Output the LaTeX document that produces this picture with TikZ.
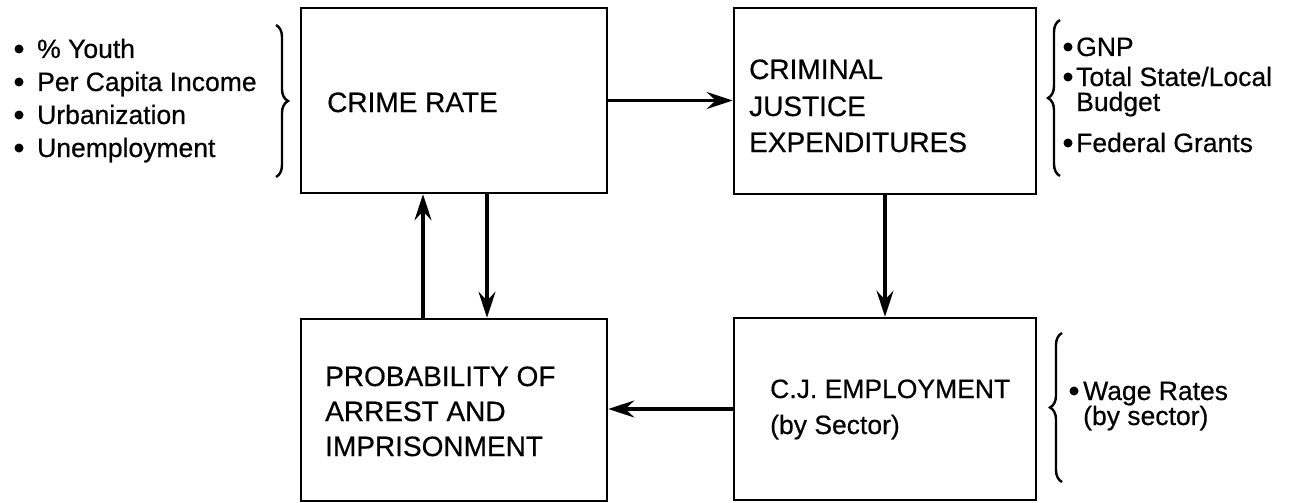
\documentclass[tikz,border=0pt]{standalone}
\usepackage{fontspec}
\setmainfont{Liberation Sans}
\newfontfamily\medfont{Liberation Sans}[FakeBold=0.5]
\usetikzlibrary{arrows.meta,decorations.pathreplacing}
\tikzset{
  box/.style={draw, line width=2.6pt, inner sep=0pt},
  btxt/.style={anchor=base west, inner sep=0pt, font=\medfont\fontsize{28}{32}\selectfont},
  etxt/.style={anchor=base west, inner sep=0pt, font=\medfont\fontsize{26.5}{30}\selectfont},
  stxt/.style={anchor=base west, inner sep=0pt, font=\medfont\fontsize{26.5}{30}\selectfont},
  dot/.style={circle, fill=black, inner sep=0pt, minimum size=9pt},
  arr/.style={line width=3.6pt, -{Stealth[length=26pt,width=17pt,inset=9pt]}},
  brace/.style={line width=2.4pt, decorate, decoration={brace, amplitude=12pt}}
}
\begin{document}
\begin{tikzpicture}[x=1pt,y=-1pt]
\useasboundingbox (0,0) rectangle (1299,503);
% boxes
\node[box, minimum width=306pt, minimum height=185pt] (crime) at (454,100.5) {};
\node[box, minimum width=302pt, minimum height=186pt] (cje) at (885,101) {};
\node[box, minimum width=306pt, minimum height=182pt] (prob) at (454,410) {};
\node[box, minimum width=302pt, minimum height=182pt] (emp) at (885,409) {};
% box texts
\node[btxt] (crimeT) at (327,112) {CRIME RATE};
\node[btxt] (cjeA) at (749,79) {CRIMINAL};
\node[btxt] (cjeB) at (749,116) {JUSTICE};
\node[btxt] (cjeC) at (749,152) {EXPENDITURES};
\node[btxt] (probA) at (325,386) {PROBABILITY OF};
\node[btxt] (probB) at (325,421) {ARREST AND};
\node[btxt] (probC) at (325,456) {IMPRISONMENT};
\node[etxt] (empA) at (770,398) {C.J. EMPLOYMENT};
\node[etxt] (empB) at (770,434) {(by Sector)};
% left list
\node[stxt] (l1) at (37,58) {\% Youth};
\node[stxt] (l2) at (37,91) {Per Capita Income};
\node[stxt] (l3) at (37,124) {Urbanization};
\node[stxt] (l4) at (37,157) {Unemployment};
\node[dot] (d1) at (19,49) {};
\node[dot] (d2) at (19,82) {};
\node[dot] (d3) at (19,115) {};
\node[dot] (d4) at (19,148) {};
\coordinate (lbt) at (276,25);
\coordinate (lbb) at (276,177);
\draw[brace] (lbt) -- (lbb);
% right list (expenditures)
\node[stxt] (r1) at (1076,56) {GNP};
\node[stxt] (r2) at (1076,86) {Total State/Local};
\node[stxt] (r3) at (1076,111) {Budget};
\node[stxt] (r4) at (1076,152) {Federal Grants};
\node[dot] (e1) at (1068,47) {};
\node[dot] (e2) at (1068,77) {};
\node[dot] (e4) at (1068,143) {};
\coordinate (rbt) at (1060,20);
\coordinate (rbb) at (1060,176);
\draw[brace] (rbb) -- (rbt);
% right list (employment)
\node[stxt] (w1) at (1083,400) {Wage Rates};
\node[stxt] (w2) at (1083,425) {(by sector)};
\node[dot] (f1) at (1074,391) {};
\coordinate (sbt) at (1062,333);
\coordinate (sbb) at (1062,482);
\draw[brace] (sbb) -- (sbt);
% arrows
\draw[arr] (crime.east) -- (crime.east -| cje.west);
\draw[arr] (cje.south) -- (emp.north);
\draw[arr] (emp.west) -- (emp.west -| prob.east);
\draw[arr] (crime.south -| 487,0) -- (prob.north -| 487,0);
\draw[arr] (prob.north -| 423,0) -- (crime.south -| 423,0);
\end{tikzpicture}
\end{document}
